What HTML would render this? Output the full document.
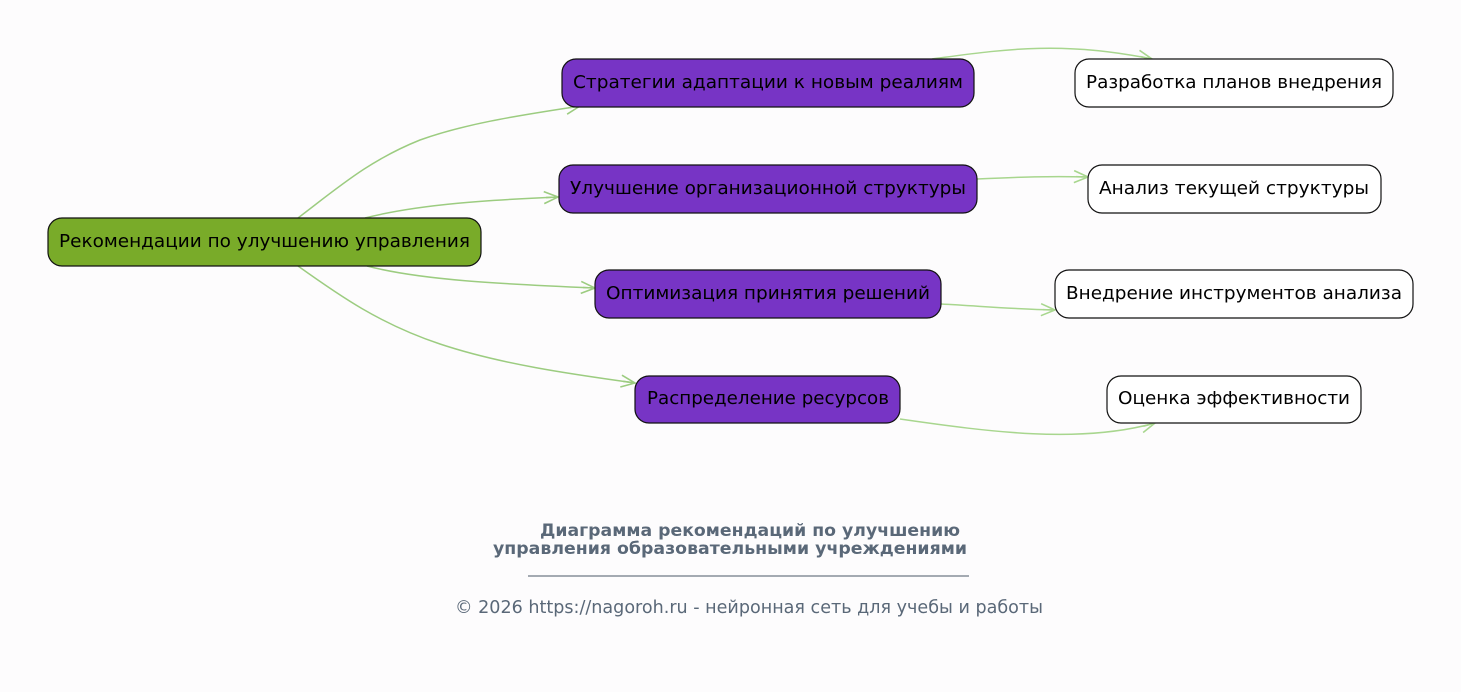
<!DOCTYPE html>
<html><head><meta charset="utf-8"><style>
html,body{margin:0;padding:0;background:#fdfcfd;}
svg{display:block;font-family:"DejaVu Sans","Liberation Sans",sans-serif;}
</style></head><body>
<svg width="1461" height="692" viewBox="0 0 1461 692" xmlns="http://www.w3.org/2000/svg">
<defs>
<marker id="a" markerWidth="20" markerHeight="14" refX="16" refY="7" orient="auto" markerUnits="userSpaceOnUse">
<path d="M2,1 L16,7 L2,13 M16,7 L4,7" fill="none" stroke="#9ccc80" stroke-width="1.6"/>
</marker>
<marker id="b" markerWidth="20" markerHeight="14" refX="16" refY="7" orient="auto" markerUnits="userSpaceOnUse">
<path d="M2,1 L16,7 L2,13 M16,7 L4,7" fill="none" stroke="#a8d68e" stroke-width="1.6"/>
</marker>
</defs>
<rect width="1461" height="692" fill="#fdfcfd"/>
<g fill="none" stroke="#9ccc80" stroke-width="1.5">
<path d="M298,218 C340,186 370,160 420,140 C470,122 530,114 580,106" marker-end="url(#a)"/>
<path d="M365,218 C420,204 490,200 558,197" marker-end="url(#a)"/>
<path d="M367,266 C420,280 500,284 595,288" marker-end="url(#a)"/>
<path d="M298,266 C340,296 380,324 440,344 C500,364 570,374 635,383" marker-end="url(#a)"/>
</g>
<g fill="none" stroke="#a8d68e" stroke-width="1.5">
<path d="M932,59 C1000,50 1060,40 1152,59" marker-end="url(#b)"/>
<path d="M977,179 C1020,177 1050,176 1088,177" marker-end="url(#b)"/>
<path d="M941,304 C980,306 1010,309 1055,310" marker-end="url(#b)"/>
<path d="M900,419 C990,432 1080,444 1155,423" marker-end="url(#b)"/>
</g>
<g stroke="#111" stroke-width="1.2">
<rect x="48" y="218" width="433" height="48" rx="14" fill="#79ab29"/>
<rect x="562" y="59" width="412" height="48" rx="14" fill="#7734c5"/>
<rect x="559" y="165" width="418" height="48" rx="14" fill="#7734c5"/>
<rect x="595" y="270" width="346" height="48" rx="14" fill="#7734c5"/>
<rect x="635" y="376" width="265" height="47" rx="14" fill="#7734c5"/>
<rect x="1075" y="59" width="318" height="48" rx="14" fill="#fff"/>
<rect x="1088" y="165" width="293" height="48" rx="14" fill="#fff"/>
<rect x="1055" y="270" width="358" height="48" rx="14" fill="#fff"/>
<rect x="1107" y="376" width="254" height="47" rx="14" fill="#fff"/>
</g>
<g font-size="18" fill="#000">
<text x="59" y="247" textLength="411" lengthAdjust="spacingAndGlyphs">Рекомендации по улучшению управления</text>
<text x="573" y="88" textLength="390" lengthAdjust="spacingAndGlyphs">Стратегии адаптации к новым реалиям</text>
<text x="570" y="194" textLength="396" lengthAdjust="spacingAndGlyphs">Улучшение организационной структуры</text>
<text x="606" y="299" textLength="324" lengthAdjust="spacingAndGlyphs">Оптимизация принятия решений</text>
<text x="647" y="404" textLength="242" lengthAdjust="spacingAndGlyphs">Распределение ресурсов</text>
<text x="1086" y="88" textLength="296" lengthAdjust="spacingAndGlyphs">Разработка планов внедрения</text>
<text x="1099" y="194" textLength="270" lengthAdjust="spacingAndGlyphs">Анализ текущей структуры</text>
<text x="1066" y="299" textLength="336" lengthAdjust="spacingAndGlyphs">Внедрение инструментов анализа</text>
<text x="1118" y="404" textLength="232" lengthAdjust="spacingAndGlyphs">Оценка эффективности</text>
</g>
<g fill="#5a6878">
<text x="540" y="536" font-size="17" font-weight="bold" textLength="420" lengthAdjust="spacingAndGlyphs">Диаграмма рекомендаций по улучшению</text>
<text x="493" y="554" font-size="17" font-weight="bold" textLength="474" lengthAdjust="spacingAndGlyphs">управления образовательными учреждениями</text>
<line x1="528" y1="576" x2="969" y2="576" stroke="#4a5868" stroke-width="1"/>
<text x="455" y="613" font-size="17.5" textLength="588" lengthAdjust="spacingAndGlyphs">© 2026 https://nagoroh.ru - нейронная сеть для учебы и работы</text>
</g>
</svg>
</body></html>
